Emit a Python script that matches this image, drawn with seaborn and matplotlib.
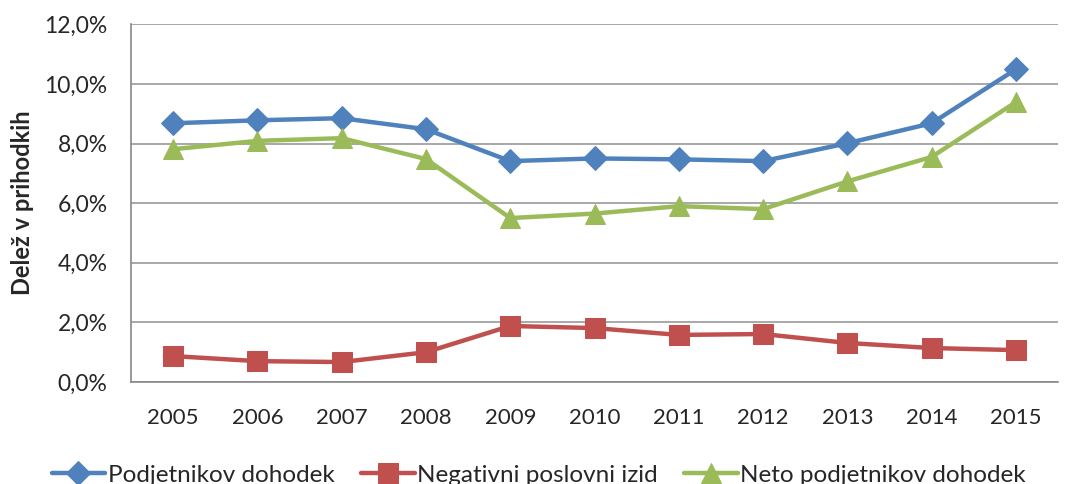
import numpy as np
import pandas as pd
import seaborn as sns
import matplotlib.pyplot as plt
from matplotlib.ticker import FuncFormatter, MultipleLocator

years = list(range(2005, 2016))
podjetnikov = [8.68, 8.78, 8.85, 8.48, 7.41, 7.50, 7.47, 7.41, 8.01, 8.68, 10.49]
negativni = [0.87, 0.70, 0.67, 1.00, 1.88, 1.81, 1.58, 1.61, 1.31, 1.14, 1.07]
neto = [7.81, 8.09, 8.18, 7.48, 5.50, 5.65, 5.90, 5.80, 6.73, 7.55, 9.39]

names = ['Podjetnikov dohodek', 'Negativni poslovni izid', 'Neto podjetnikov dohodek']
colors = ['#4F81BD', '#C0504D', '#9BBB59']
markers = ['D', 's', '^']
msizes = [12, 14, 14]

df = pd.DataFrame({
    'leto': years * 3,
    'vrednost': podjetnikov + negativni + neto,
    'serija': [names[0]] * 11 + [names[1]] * 11 + [names[2]] * 11,
})

sns.set_style('white')
plt.rcParams['font.family'] = ['Lato', 'DejaVu Sans']

fig = plt.figure(figsize=(10.67, 4.84), dpi=100)
ax = fig.add_axes([0.1228, 0.2107, 0.9916 - 0.1228, 0.7391])

for name, c, m, ms in zip(names, colors, markers, msizes):
    sns.lineplot(data=df[df['serija'] == name], x='leto', y='vrednost', color=c,
                 marker=m, markersize=ms, markeredgecolor=c, linewidth=3.2,
                 label=name, ax=ax, legend=False)

ax.set_xlim(2004.5, 2015.5)
ax.set_ylim(0, 12)
ax.yaxis.set_major_locator(MultipleLocator(2))
ax.yaxis.set_major_formatter(FuncFormatter(lambda v, p: f'{v:.1f}%'.replace('.', ',')))
ax.set_xticks(years)
ax.set_xticks(np.arange(2004.5, 2016, 1), minor=True)
ax.tick_params(axis='x', which='major', length=0, pad=19, labelsize=16)
ax.tick_params(axis='x', which='minor', length=7, width=1, color='#888888', direction='out')
ax.tick_params(axis='y', length=7, width=1, color='#888888', direction='out', labelsize=16.5, pad=10)
ax.yaxis.grid(True, color='#9a9a9a', linewidth=1.2)
ax.set_axisbelow(True)
for s in ['top', 'right']:
    ax.spines[s].set_visible(False)
for s in ['left', 'bottom']:
    ax.spines[s].set_color('#888888')
    ax.spines[s].set_linewidth(1.2)
ax.set_xlabel('')
ax.set_ylabel('Delež v prihodkih', fontsize=17, fontweight='bold')
ax.yaxis.set_label_coords(-0.105, 0.5)

handles, labels = ax.get_legend_handles_labels()
fig.legend(handles, labels, loc='center', bbox_to_anchor=(0.505, 1 - 475 / 484), ncol=3,
           frameon=False, fontsize=17.5, handlelength=2.2, handletextpad=0.1,
           columnspacing=1.1, borderaxespad=0)

fig.savefig('out.png', dpi=100)
